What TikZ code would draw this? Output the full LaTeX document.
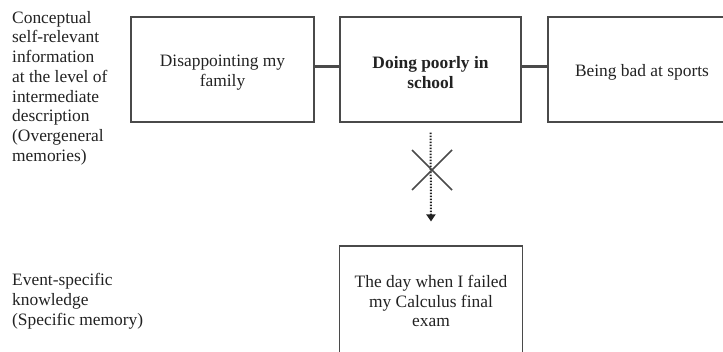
\documentclass[tikz,border=0pt]{standalone}
\usepackage{fontspec}
\setmainfont{Liberation Serif}
\usetikzlibrary{arrows.meta}
\definecolor{boxgray}{HTML}{4A4A4A}
\definecolor{txt}{HTML}{222222}
\newcommand{\topstrut}{\rule{0pt}{18pt}}
\begin{document}
\begin{tikzpicture}[x=1pt,y=-1pt,
  box/.style={draw=boxgray,line width=1.1pt,rectangle,inner sep=0pt,text=txt,
    align=center,font=\fontsize{17.4}{19.9}\selectfont},
  lab/.style={anchor=north west,align=left,inner sep=0pt,text=txt,
    font=\fontsize{17.4}{19.7}\selectfont},
  link/.style={draw=boxgray,line width=3.5pt},
  crossline/.style={draw=boxgray,line width=1.6pt},
  dotarrow/.style={draw=txt,line width=2pt,dash pattern=on 1.6pt off 1.4pt,-{Triangle[width=9pt,length=7pt]}}]
\useasboundingbox (0,0) rectangle (723,351);
\clip (0,0) rectangle (723,351);
\node[box,minimum width=183pt,minimum height=105pt] (b1) at (222.5,69.5) {\topstrut Disappointing my\\family};
\node[box,minimum width=181pt,minimum height=105pt,font=\fontsize{17.4}{19.9}\selectfont\bfseries] (b2) at (430.5,69.5) {\topstrut Doing poorly in\\school};
\node[box,minimum width=188pt,minimum height=105pt] (b3) at (642,69.5) {\topstrut Being bad at sports};
\node[box,minimum width=183pt,minimum height=110pt] (b4) at (431,301) {The day when I failed\\my Calculus final\\exam};
\draw[link] ([yshift=3pt]b1.east) -- ([yshift=3pt]b2.west);
\draw[link] ([yshift=3pt]b2.east) -- ([yshift=3pt]b3.west);
\coordinate (as) at ([yshift=-10pt]b2.south);
\coordinate (ae) at ([yshift=24pt]b4.north);
\draw[dotarrow] (as) -- (ae);
\coordinate (cx) at (432,170);
\draw[crossline] ([shift={(-20pt,-20pt)}]cx) -- ([shift={(20pt,20pt)}]cx);
\draw[crossline] ([shift={(-20pt,20pt)}]cx) -- ([shift={(20pt,-20pt)}]cx);
\node[lab] (l1) at (12,11) {Conceptual\\self-relevant\\information\\at the level of\\intermediate\\description\\(Overgeneral\\memories)};
\node[lab,font=\fontsize{17.4}{20}\selectfont] (l2) at (12,273) {Event-specific\\knowledge\\(Specific memory)};
\end{tikzpicture}
\end{document}
